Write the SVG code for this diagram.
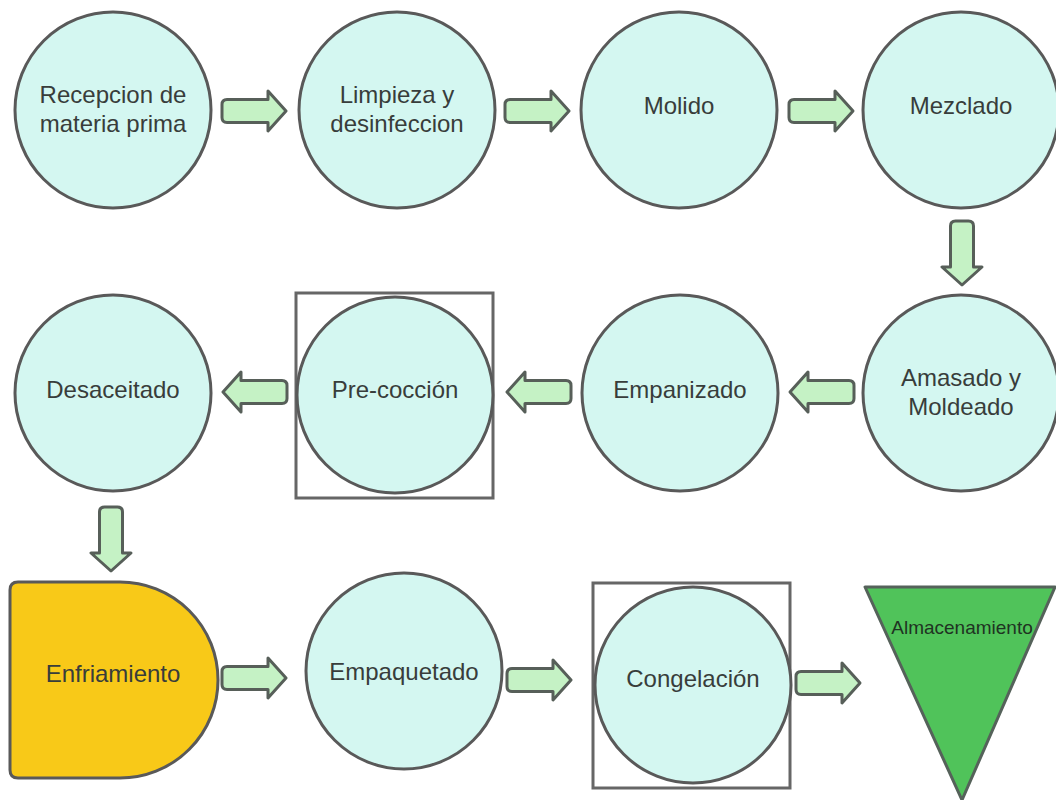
<svg xmlns="http://www.w3.org/2000/svg" xmlns:xlink="http://www.w3.org/1999/xlink" width="1056" height="800" viewBox="0 0 1056 800">
<style>
.c{fill:#d4f7f1;stroke:#595959;stroke-width:3}
.t{font-family:"Liberation Sans",Arial,sans-serif;font-size:24px;fill:#383d3b;text-anchor:middle}
.sq{fill:none;stroke:#666;stroke-width:3}
.a{fill:#c5f2c5;stroke:#575f59;stroke-width:3;stroke-linejoin:round}
</style>
<defs>
<path id="arr" class="a" d="M -27,-11.5 H 14 V -20 L 32,0 L 14,20 V 11.5 H -27 Q -32,11.5 -32,6.5 V -6.5 Q -32,-11.5 -27,-11.5 Z"/>
</defs>
<rect width="1056" height="800" fill="#fff"/>
<g id="connectors">
<use xlink:href="#arr" transform="translate(254,111)"/>
<use xlink:href="#arr" transform="translate(537,111)"/>
<use xlink:href="#arr" transform="translate(821,111)"/>
<use xlink:href="#arr" transform="translate(962,253) rotate(90)"/>
<use xlink:href="#arr" transform="translate(822,392) rotate(180)"/>
<use xlink:href="#arr" transform="translate(539,392) rotate(180)"/>
<use xlink:href="#arr" transform="translate(255,392) rotate(180)"/>
<use xlink:href="#arr" transform="translate(111,539) rotate(90)"/>
<use xlink:href="#arr" transform="translate(254,678)"/>
<use xlink:href="#arr" transform="translate(539,680)"/>
<use xlink:href="#arr" transform="translate(828,683)"/>
</g>
<g id="n1"><circle class="c" cx="113" cy="110" r="98"/><text class="t" x="113" y="103">Recepcion de</text><text class="t" x="113" y="132">materia prima</text></g>
<g id="n2"><circle class="c" cx="397" cy="110" r="98"/><text class="t" x="397" y="103">Limpieza y</text><text class="t" x="397" y="132">desinfeccion</text></g>
<g id="n3"><circle class="c" cx="679" cy="110" r="98"/><text class="t" x="679" y="114">Molido</text></g>
<g id="n4"><circle class="c" cx="961" cy="110" r="98"/><text class="t" x="961" y="114">Mezclado</text></g>
<g id="n5"><circle class="c" cx="961" cy="393" r="98"/><text class="t" x="961" y="386">Amasado y</text><text class="t" x="961" y="415">Moldeado</text></g>
<g id="n6"><circle class="c" cx="680" cy="393" r="98"/><text class="t" x="680" y="398">Empanizado</text></g>
<g id="n7"><rect class="sq" x="296" y="293" width="197" height="205"/><circle class="c" cx="395" cy="395" r="98"/><text class="t" x="395" y="398">Pre-cocción</text></g>
<g id="n8"><circle class="c" cx="113" cy="393" r="98"/><text class="t" x="113" y="398">Desaceitado</text></g>
<g id="n9"><path d="M 18,582 H 120 A 98 98 0 0 1 120,778 H 18 Q 10,778 10,770 V 590 Q 10,582 18,582 Z" fill="#f8c918" stroke="#595959" stroke-width="3"/><text class="t" x="113" y="682">Enfriamiento</text></g>
<g id="n10"><circle class="c" cx="404" cy="671" r="98"/><text class="t" x="404" y="680">Empaquetado</text></g>
<g id="n11"><rect class="sq" x="593" y="583" width="197" height="205"/><circle class="c" cx="693" cy="685" r="98"/><text class="t" x="693" y="687">Congelación</text></g>
<g id="n12"><path d="M 865,587 L 1055,587 L 962,800 Z" fill="#50c35a" stroke="#55625a" stroke-width="3" stroke-linejoin="round"/><text class="t" x="962" y="634" style="font-size:19px;fill:#1f3322">Almacenamiento</text></g>
</svg>
